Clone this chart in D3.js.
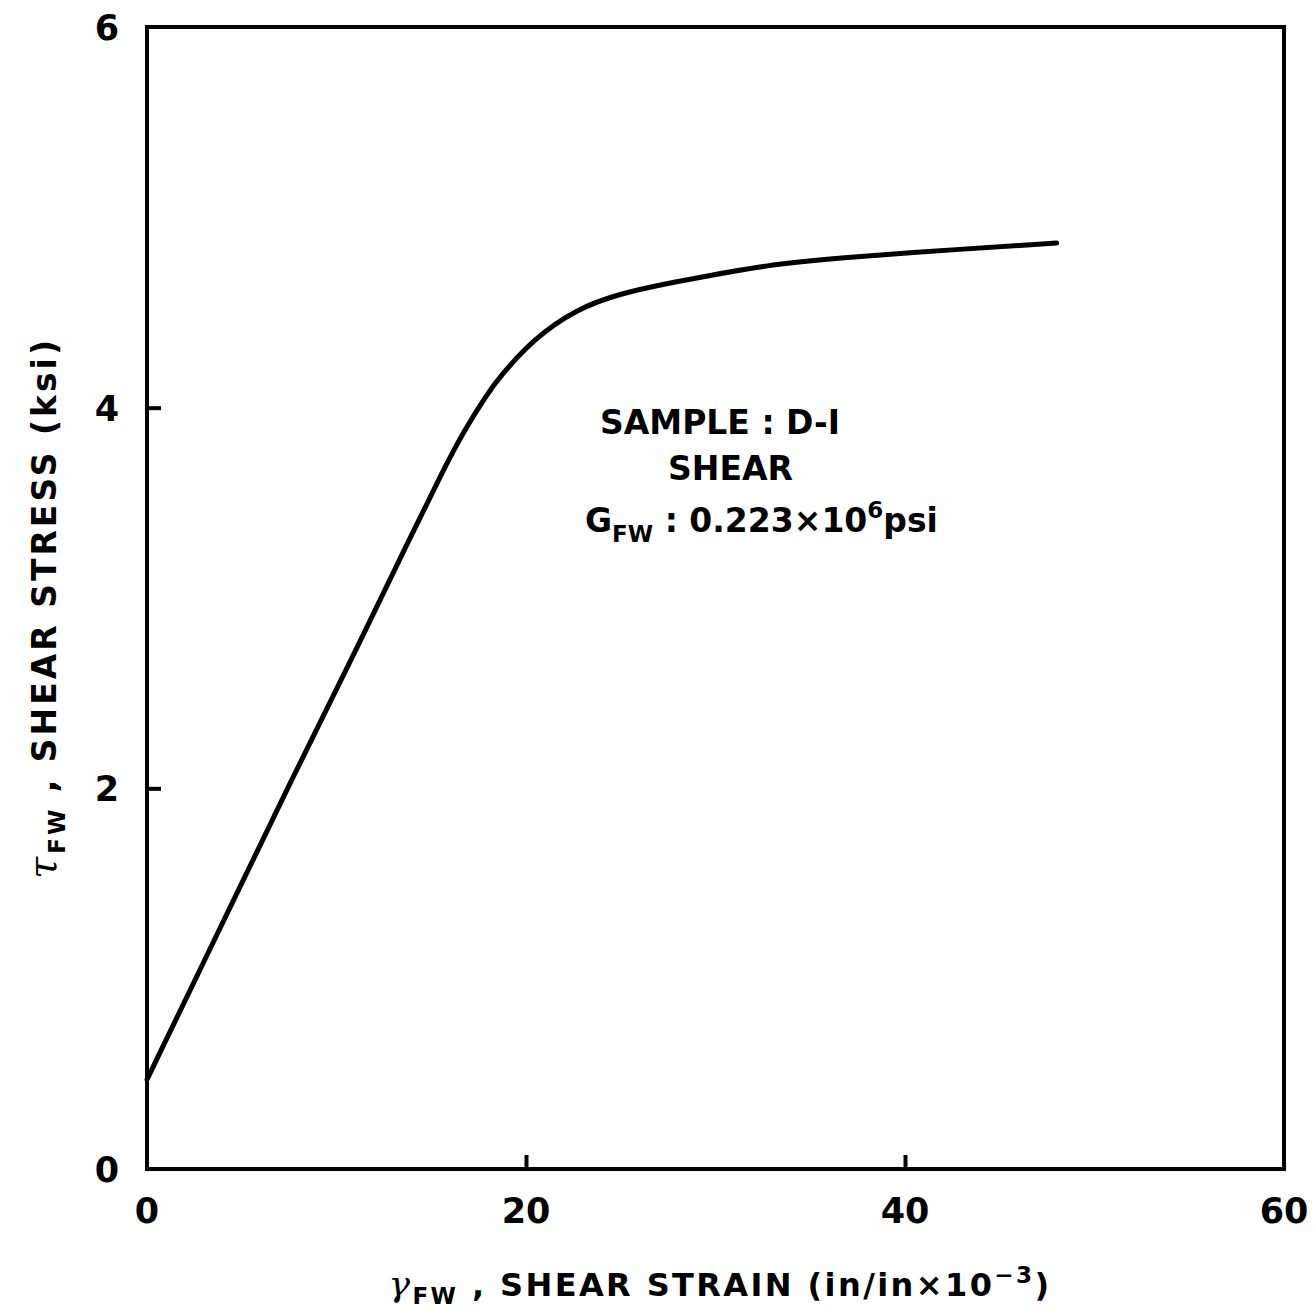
<!DOCTYPE html>
<html>
<head>
<meta charset="utf-8">
<script src="https://cdn.jsdelivr.net/npm/d3@7"></script>
<style>
  body { margin: 0; background: #fff; }
  svg text { font-family: 'DejaVu Sans', sans-serif; fill: #000; }
</style>
</head>
<body>
<div id="chart"></div>
<script>
// shear strain (in/in x 10^-3) and shear stress (ksi)
const strain = [0, 4.75, 7.65, 10.71, 14.04, 15.83, 16.68, 17.94, 18.6, 20.37, 22.69, 24.96, 27.6, 29.18, 32.77, 36.2, 43.27, 48.0];
const stress = [0.47, 1.45, 2.05, 2.66, 3.35, 3.71, 3.87, 4.07, 4.16, 4.36, 4.52, 4.60, 4.655, 4.685, 4.75, 4.785, 4.835, 4.865];
const xTicks = [0, 20, 40, 60];
const yTicks = [0, 2, 4, 6];
const noteLines = ['SAMPLE : D-I', 'SHEAR'];

const width = 1316, height = 1313;
const svg = d3.select('#chart').append('svg')
  .attr('width', width).attr('height', height);

const x = d3.scaleLinear().domain([0, 60]).range([147, 1284]);
const y = d3.scaleLinear().domain([0, 6]).range([1169, 27]);

// frame
svg.append('rect')
  .attr('x', x(0)).attr('y', y(6))
  .attr('width', x(60) - x(0)).attr('height', y(0) - y(6))
  .attr('fill', 'none').attr('stroke', '#000').attr('stroke-width', 4);

// inward ticks
svg.append('g').attr('transform', `translate(0,${y(0)})`)
  .call(d3.axisTop(x).tickValues(xTicks.slice(1, -1)).tickSize(14).tickFormat(''))
  .call(g => g.select('.domain').remove())
  .call(g => g.selectAll('line').attr('stroke-width', 4));
svg.append('g').attr('transform', `translate(${x(0)},0)`)
  .call(d3.axisRight(y).tickValues(yTicks.slice(1, -1)).tickSize(14).tickFormat(''))
  .call(g => g.select('.domain').remove())
  .call(g => g.selectAll('line').attr('stroke-width', 4));

// tick labels
svg.selectAll('.xl').data(xTicks).join('text')
  .attr('x', d => x(d)).attr('y', 1223)
  .attr('text-anchor', 'middle').attr('font-size', 35).attr('font-weight', 'bold')
  .text(d => d);
svg.selectAll('.yl').data(yTicks).join('text')
  .attr('x', 119).attr('y', d => y(d) + 13)
  .attr('text-anchor', 'end').attr('font-size', 35).attr('font-weight', 'bold')
  .text(d => d);

// curve
const pts = strain.map((s, i) => [s, stress[i]]);
svg.append('path')
  .datum(pts)
  .attr('fill', 'none').attr('stroke', '#000').attr('stroke-width', 5)
  .attr('stroke-linecap', 'round').attr('stroke-linejoin', 'round')
  .attr('d', d3.line().x(d => x(d[0])).y(d => y(d[1])).curve(d3.curveBasis));

// annotation
svg.append('text').attr('x', 600).attr('y', 434).attr('font-size', 33).attr('font-weight', 'bold')
  .text(noteLines[0]);
svg.append('text').attr('x', 668).attr('y', 480).attr('font-size', 33).attr('font-weight', 'bold')
  .text(noteLines[1]);
const g3 = svg.append('text').attr('x', 585).attr('y', 532).attr('font-size', 33).attr('font-weight', 'bold');
g3.append('tspan').text('G');
g3.append('tspan').attr('font-size', 23).attr('dy', 10).text('FW');
g3.append('tspan').attr('dy', -10).text(' : 0.223×10');
g3.append('tspan').attr('font-size', 23).attr('dy', -14).text('6');
g3.append('tspan').attr('dy', 14).text('psi');

// x axis title
const xt = svg.append('text').attr('x', 720).attr('y', 1296)
  .attr('text-anchor', 'middle').attr('font-size', 32).attr('font-weight', 'bold')
  .attr('letter-spacing', 2.4);
xt.append('tspan').attr('font-style', 'italic').attr('font-weight', 'normal').attr('font-family', 'DejaVu Serif').attr('font-size', 36).text('γ');
xt.append('tspan').attr('font-size', 23).attr('dy', 8).text('FW');
xt.append('tspan').attr('dy', -8).text(' , SHEAR  STRAIN  (in/in×10');
xt.append('tspan').attr('font-size', 23).attr('dy', -13).text('−3');
xt.append('tspan').attr('dy', 13).text(')');

// y axis title
const yt = svg.append('text').attr('transform', 'translate(56,608) rotate(-90)')
  .attr('text-anchor', 'middle').attr('font-size', 33).attr('font-weight', 'bold')
  .attr('letter-spacing', 3);
yt.append('tspan').attr('font-style', 'italic').attr('font-weight', 'normal').attr('font-family', 'DejaVu Serif').attr('font-size', 40).text('τ');
yt.append('tspan').attr('font-size', 23).attr('dy', 9).text('FW');
yt.append('tspan').attr('dy', -9).text(' , SHEAR  STRESS  (ksi)');
</script>
</body>
</html>
